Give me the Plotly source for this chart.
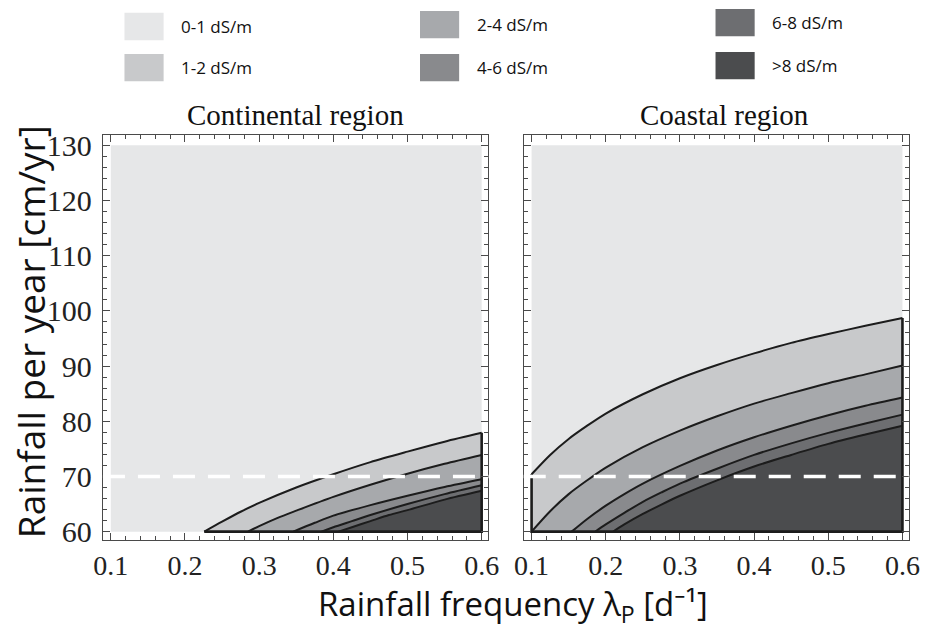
import plotly.graph_objects as go

# ---------------- data ----------------
CLASS_LABELS = ["0-1 dS/m", "1-2 dS/m", "2-4 dS/m", "4-6 dS/m", "6-8 dS/m", ">8 dS/m"]
CLASS_COLORS = ["#e6e7e8", "#c8c9cb", "#a7a9ac", "#898a8d", "#6d6e71", "#4b4c4e"]
THRESHOLDS = [1, 2, 4, 6, 8]          # boundary curves (dS/m)

X_DATA = [0.1, 0.6]                   # rainfall frequency extent
Y_DATA = [60, 130]                    # rainfall per year extent
REF_RAINFALL = 70                     # dashed reference line

X_TICKS = [0.1, 0.2, 0.3, 0.4, 0.5, 0.6]
Y_TICKS = [60, 70, 80, 90, 100, 110, 120, 130]

PANEL_TITLES = ["Continental region", "Coastal region"]

# Continental region: boundary curves (x = frequency, y = rainfall)
CONT_X = [
    [0.226, 0.25, 0.275, 0.30, 0.35, 0.40, 0.45, 0.50, 0.55, 0.60],
    [0.285, 0.30, 0.325, 0.35, 0.40, 0.45, 0.50, 0.55, 0.60],
    [0.346, 0.375, 0.40, 0.45, 0.50, 0.55, 0.60],
    [0.384, 0.40, 0.425, 0.45, 0.50, 0.55, 0.60],
    [0.407, 0.425, 0.45, 0.475, 0.50, 0.55, 0.60],
]
CONT_Y = [
    [60.0, 61.8, 63.6, 65.2, 68.0, 70.4, 72.6, 74.5, 76.3, 77.9],
    [60.0, 61.0, 62.5, 63.8, 66.3, 68.5, 70.5, 72.3, 73.9],
    [60.0, 61.6, 62.9, 64.8, 66.5, 68.1, 69.5],
    [60.0, 60.8, 61.9, 63.0, 65.0, 66.8, 68.4],
    [60.0, 60.8, 61.9, 63.0, 63.9, 65.8, 67.4],
]

# Coastal region
COAST_X = [
    [0.10, 0.125, 0.15, 0.175, 0.20, 0.25, 0.30, 0.35, 0.40, 0.45, 0.50, 0.55, 0.60],
    [0.10, 0.125, 0.15, 0.175, 0.20, 0.25, 0.30, 0.35, 0.40, 0.45, 0.50, 0.55, 0.60],
    [0.154, 0.175, 0.20, 0.225, 0.25, 0.30, 0.35, 0.40, 0.45, 0.50, 0.55, 0.60],
    [0.186, 0.20, 0.225, 0.25, 0.275, 0.30, 0.35, 0.40, 0.45, 0.50, 0.55, 0.60],
    [0.21, 0.225, 0.25, 0.275, 0.30, 0.35, 0.40, 0.45, 0.50, 0.55, 0.60],
]
COAST_Y = [
    [70.4, 73.9, 76.8, 79.2, 81.4, 84.9, 87.8, 90.2, 92.3, 94.2, 95.8, 97.3, 98.7],
    [60.0, 63.7, 66.8, 69.3, 71.6, 75.3, 78.3, 80.9, 83.2, 85.1, 86.9, 88.5, 90.1],
    [60.0, 62.3, 64.7, 66.8, 68.7, 71.9, 74.7, 77.1, 79.2, 81.1, 82.8, 84.3],
    [60.0, 61.3, 63.4, 65.4, 67.1, 68.7, 71.4, 73.9, 76.0, 77.9, 79.6, 81.2],
    [60.0, 61.3, 63.2, 64.9, 66.5, 69.3, 71.8, 73.9, 75.9, 77.6, 79.2],
]

# ---------------- figure ----------------
W, H = 933, 632
fig = go.Figure()

LINE_COLOR = "#1c1c1c"
panels = [(CONT_X, CONT_Y, "x", "y"), (COAST_X, COAST_Y, "x2", "y2")]

for cx, cy, xa, ya in panels:
    # background class (0-1)
    fig.add_trace(go.Scatter(
        x=[X_DATA[0], X_DATA[1], X_DATA[1], X_DATA[0], X_DATA[0]],
        y=[Y_DATA[0], Y_DATA[0], Y_DATA[1], Y_DATA[1], Y_DATA[0]],
        fill="toself", fillcolor=CLASS_COLORS[0], mode="lines",
        line=dict(width=0), xaxis=xa, yaxis=ya, hoverinfo="skip", showlegend=False))
    # class regions under each boundary curve
    for k in range(len(THRESHOLDS)):
        xs = list(cx[k]) + [cx[k][-1], cx[k][0], cx[k][0]]
        ys = list(cy[k]) + [Y_DATA[0], Y_DATA[0], cy[k][0]]
        fig.add_trace(go.Scatter(
            x=xs, y=ys, fill="toself", fillcolor=CLASS_COLORS[k + 1],
            mode="lines", line=dict(width=0), xaxis=xa, yaxis=ya,
            hoverinfo="skip", showlegend=False))
    # boundary curves
    for k in range(len(THRESHOLDS)):
        fig.add_trace(go.Scatter(
            x=cx[k], y=cy[k], mode="lines",
            line=dict(color=LINE_COLOR, width=2, shape="spline", smoothing=0.8),
            xaxis=xa, yaxis=ya, name=f"{THRESHOLDS[k]} dS/m", showlegend=False))
    # outer border of the coloured region
    top_x, top_y = cx[0], cy[0]
    fig.add_trace(go.Scatter(
        x=[top_x[-1], top_x[-1], top_x[0], top_x[0]],
        y=[top_y[-1], Y_DATA[0], Y_DATA[0], top_y[0]],
        mode="lines", line=dict(color=LINE_COLOR, width=2.6),
        xaxis=xa, yaxis=ya, hoverinfo="skip", showlegend=False))
    # dashed reference rainfall
    fig.add_shape(type="line", xref=f"{xa} domain", yref=ya,
                  x0=0, x1=1, y0=REF_RAINFALL, y1=REF_RAINFALL,
                  line=dict(color="white", width=3.5, dash="22px,13px"), layer="above")

# axes
serif = "Liberation Serif, Times New Roman, serif"
sans = "Open Sans, Noto Sans, sans-serif"
x_range = [0.0894, 0.6092]
y_range = [58.5, 131.95]
y_dom = [1 - 546 / H, 1 - 131.5 / H]
frame = "#4a4a4a"

common_x = dict(range=x_range, tickvals=X_TICKS, ticktext=[f"{v:.1f}" for v in X_TICKS],
                ticks="inside", ticklen=7, tickwidth=1.2, tickcolor=frame,
                showline=True, linecolor=frame, linewidth=1.3, mirror="ticks",
                showgrid=False, zeroline=False,
                minor=dict(dtick=0.02, tick0=0.1, ticks="inside", ticklen=4,
                           tickwidth=1, tickcolor=frame, showgrid=False),
                tickfont=dict(family=serif, size=28, color="#222"))
common_y = dict(range=y_range, tickvals=Y_TICKS,
                ticks="inside", ticklen=7, tickwidth=1.2, tickcolor=frame,
                showline=True, linecolor=frame, linewidth=1.3, mirror="ticks",
                showgrid=False, zeroline=False, domain=y_dom, ticklabelstandoff=4,
                minor=dict(dtick=2, tick0=60, ticks="inside", ticklen=4,
                           tickwidth=1, tickcolor=frame, showgrid=False),
                tickfont=dict(family=serif, size=30, color="#222"))

fig.update_layout(
    width=W, height=H, margin=dict(l=0, r=0, t=0, b=0),
    paper_bgcolor="white", plot_bgcolor="white", showlegend=False,
    xaxis=dict(domain=[96 / W, 490 / W], anchor="y", **common_x),
    yaxis=dict(anchor="x", **common_y),
    xaxis2=dict(domain=[526 / W, 920 / W], anchor="y2", **common_x),
    yaxis2=dict(anchor="x2", showticklabels=False, **common_y),
)

annotations = []
# panel titles
for title, cxp in zip(PANEL_TITLES, [293, 731]):
    annotations.append(dict(text=title, x=cxp / W, y=1 - 111 / H, xref="paper", yref="paper",
                            showarrow=False, xanchor="center", yanchor="middle",
                            font=dict(family=serif, size=29, color="#111")))
# axis titles
annotations.append(dict(text="Rainfall per year [cm/yr]", x=22 / W, y=1 - 333 / H,
                        xref="paper", yref="paper", showarrow=False, textangle=-90,
                        xanchor="center", yanchor="middle",
                        font=dict(family=sans, size=37, color="#111")))
annotations.append(dict(text="Rainfall frequency λ<sub>P</sub> [d⁻¹]",
                        x=515 / W, y=1 - 613 / H, xref="paper", yref="paper",
                        showarrow=False, xanchor="center", yanchor="middle",
                        font=dict(family=sans, size=33, color="#111")))

# legend (3 columns x 2 rows)
shapes = []
col_left = [118, 420, 722]
row_tops = [[7, 49], [5, 49], [3, 47]]
for i, (lab, col) in enumerate(zip(CLASS_LABELS, CLASS_COLORS)):
    c, r = i // 2, i % 2
    x0 = col_left[c]
    y0 = row_tops[c][r]
    shapes.append(dict(type="rect", xref="paper", yref="paper",
                       x0=x0 / W, x1=(x0 + 40) / W, y0=1 - (y0 + 28) / H, y1=1 - y0 / H,
                       fillcolor=col, line=dict(width=0)))
    annotations.append(dict(text=lab, x=(x0 + 56) / W, y=1 - (y0 + 14) / H,
                            xref="paper", yref="paper", showarrow=False,
                            xanchor="left", yanchor="middle",
                            font=dict(family=sans, size=17, color="#111")))

fig.update_layout(annotations=annotations)
for s in shapes:
    fig.add_shape(**s)

fig.write_html("out.html")
